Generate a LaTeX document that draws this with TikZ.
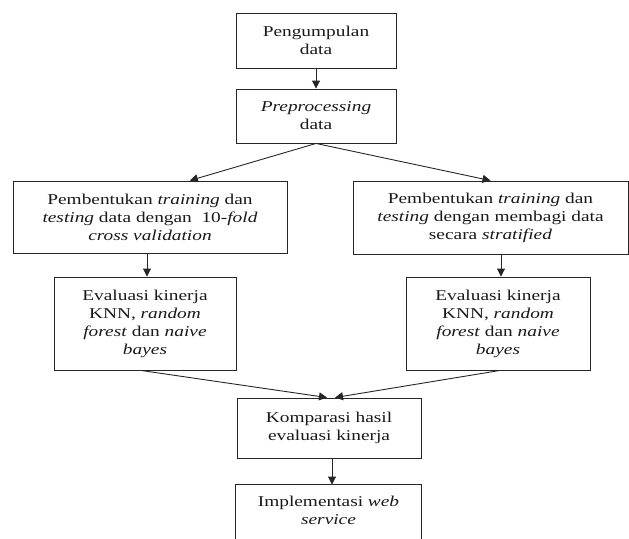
\documentclass[tikz,border=0pt]{standalone}
\usepackage{fontspec}
\setmainfont{Liberation Serif}[FakeStretch=1.29]
\usetikzlibrary{arrows.meta,calc}
\begin{document}
\begin{tikzpicture}[x=1pt,y=-1pt,
  box/.style={draw=black!85, line width=0.9pt, align=center, inner sep=0pt,
    font=\fontsize{15}{18}\selectfont, text=black!90},
  arr/.style={draw=black!85, line width=0.9pt, -{Triangle[length=8pt,width=8pt]}}]
\useasboundingbox (0,0) rectangle (629,538);
\node[box, minimum width=160pt, minimum height=55pt] (b1) at (316,40.5) {Pengumpulan\\data};
\node[box, minimum width=160pt, minimum height=54pt] (b2) at (316,116) {\textit{Preprocessing}\\data};
\node[box, minimum width=274pt, minimum height=72pt] (b3) at (150,217) {Pembentukan \textit{training} dan\\\textit{testing} data dengan\ \ 10-\textit{fold}\\\textit{cross validation}};
\node[box, minimum width=275pt, minimum height=73pt] (b4) at (490.5,217.5) {Pembentukan \textit{training} dan\\\textit{testing} dengan membagi data\\secara \textit{stratified}};
\node[box, minimum width=182pt, minimum height=93pt] (b5) at (145,323.5) {Evaluasi kinerja\\KNN, \textit{random}\\\textit{forest} dan \textit{naive}\\\textit{bayes}};
\node[box, minimum width=184pt, minimum height=93pt] (b6) at (498,323.5) {Evaluasi kinerja\\KNN, \textit{random}\\\textit{forest} dan \textit{naive}\\\textit{bayes}};
\node[box, minimum width=184pt, minimum height=60pt] (b7) at (329,428) {Komparasi hasil\\evaluasi kinerja};
\node[box, draw=none, minimum width=185pt, minimum height=50pt] (b8) at (328.5,510) {Implementasi \textit{web}\\\textit{service}};
\draw[draw=black!85, line width=0.9pt] ($(b8.south west)+(0,15)$) -- (b8.north west) -- (b8.north east) -- ($(b8.south east)+(0,15)$);
% connectors
\draw[arr] (b1.south) -- (b2.north);
\draw[arr] (b2.south) -- ($(b3.north west)!0.645!(b3.north east)$);
\draw[arr] (b2.south) -- (b4.north);
\coordinate (b5x) at ($(b5.north)+(2,0)$);
\draw[arr] (b3.south -| b5x) -- (b5x);
\coordinate (b6x) at ($(b6.north)+(3,0)$);
\draw[arr] (b4.south -| b6x) -- (b6x);
\draw[arr] ($(b5.south)+(-4,0)$) -- ($(b7.north)+(-2,0)$);
\draw[arr] ($(b6.south)+(2,0)$) -- ($(b7.north)+(6,0)$);
\coordinate (b8x) at ($(b8.north)+(3.5,0)$);
\draw[arr] (b7.south -| b8x) -- (b8x);
\end{tikzpicture}
\end{document}
